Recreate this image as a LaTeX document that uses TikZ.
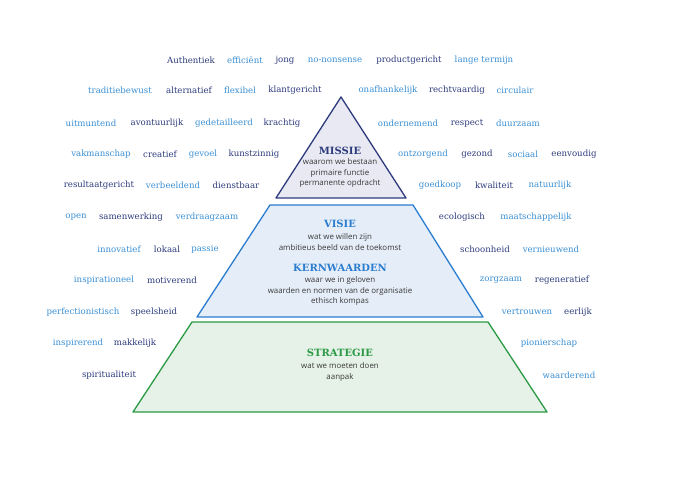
\documentclass[tikz,border=0pt]{standalone}
\usepackage{fontspec}
\newfontfamily\wordfont{DejaVu Serif}
\newfontfamily\titlefont{DejaVu Serif}
\newfontfamily\subfont{Open Sans}
\definecolor{navy}{HTML}{2D3B7C}
\definecolor{sky}{HTML}{3A8FD4}
\definecolor{bluel}{HTML}{2B7DCF}
\definecolor{greenl}{HTML}{2A9A45}
\definecolor{trifill}{HTML}{E8E9F3}
\definecolor{bluefill}{HTML}{E5EDF8}
\definecolor{greenfill}{HTML}{E6F1E7}
\definecolor{subgray}{HTML}{3A3A3A}
\tikzset{
  w/.style={inner sep=0pt, anchor=center, font=\wordfont\fontsize{8.6}{10}\selectfont},
  dk/.style={w, text=navy},
  lt/.style={w, text=sky},
  ttl/.style={inner sep=0pt, font=\titlefont\bfseries\fontsize{10}{12}\selectfont},
  sub/.style={inner sep=0pt, align=center, text=subgray, font=\subfont\fontsize{7.9}{10.6}\selectfont},
  layer/.style={line width=1.3pt, line join=round}
}
\begin{document}
\begin{tikzpicture}[x=1pt,y=-1pt]
\useasboundingbox (0,0) rectangle (680,481);
\fill[white] (0,0) rectangle (680,481);
% pyramid layers
\draw[layer, draw=greenl, fill=greenfill] (192,322) -- (488,322) -- (547,412) -- (133,412) -- cycle;
\draw[layer, draw=bluel, fill=bluefill] (270,205) -- (413,205) -- (483,317) -- (197,317) -- cycle;
\draw[layer, draw=navy, fill=trifill] (341,97) -- (406,198) -- (276,198) -- cycle;
% texts in pyramid
\node[ttl, text=navy] (missie) at (340,151) {MISSIE};
\node[sub] (missiet) at (340,173) {waarom we bestaan\\primaire functie\\permanente opdracht};
\node[ttl, text=bluel] (visie) at (340,224) {VISIE};
\node[sub] (visiet) at (340,242) {wat we willen zijn\\ambitieus beeld van de toekomst};
\node[ttl, text=bluel] (kern) at (340,268) {KERNWAARDEN};
\node[sub] (kernt) at (340,291) {waar we in geloven\\waarden en normen van de organisatie\\ethisch kompas};
\node[ttl, text=greenl] (strat) at (340,353) {STRATEGIE};
\node[sub] (stratt) at (340,372) {wat we moeten doen\\aanpak};
% words row 1
\node[dk] (a1) at (191,60) {Authentiek};
\node[lt] (a2) at (245,60) {efficiënt};
\node[dk] (a3) at (285,60) {jong};
\node[lt] (a4) at (335,60) {no-nonsense};
\node[dk] (a5) at (409,60) {productgericht};
\node[lt] (a6) at (484,60) {lange termijn};
% row 2
\node[lt] (b1) at (120,90) {traditiebewust};
\node[dk] (b2) at (189,90) {alternatief};
\node[lt] (b3) at (240,90) {flexibel};
\node[dk] (b4) at (295,90) {klantgericht};
\node[lt] (b5) at (388,90) {onafhankelijk};
\node[dk] (b6) at (457,90) {rechtvaardig};
\node[lt] (b7) at (515,90) {circulair};
% row 3
\node[lt] (c1) at (91,123) {uitmuntend};
\node[dk] (c2) at (157,123) {avontuurlijk};
\node[lt] (c3) at (224,123) {gedetailleerd};
\node[dk] (c4) at (282,123) {krachtig};
\node[lt] (c5) at (408,123) {ondernemend};
\node[dk] (c6) at (467,123) {respect};
\node[lt] (c7) at (518,123) {duurzaam};
% row 4
\node[lt] (d1) at (101,154) {vakmanschap};
\node[dk] (d2) at (160,154) {creatief};
\node[lt] (d3) at (203,154) {gevoel};
\node[dk] (d4) at (254,154) {kunstzinnig};
\node[lt] (d5) at (423,154) {ontzorgend};
\node[dk] (d6) at (477,154) {gezond};
\node[lt] (d7) at (523,154) {sociaal};
\node[dk] (d8) at (574,154) {eenvoudig};
% row 5
\node[dk] (e1) at (99,185) {resultaatgericht};
\node[lt] (e2) at (173,185) {verbeeldend};
\node[dk] (e3) at (236,185) {dienstbaar};
\node[lt] (e4) at (440,185) {goedkoop};
\node[dk] (e5) at (494,185) {kwaliteit};
\node[lt] (e6) at (550,185) {natuurlijk};
% row 6
\node[lt] (f1) at (76,217) {open};
\node[dk] (f2) at (131,217) {samenwerking};
\node[lt] (f3) at (207,217) {verdraagzaam};
\node[dk] (f4) at (462,217) {ecologisch};
\node[lt] (f5) at (536,217) {maatschappelijk};
% row 7
\node[lt] (g1) at (119,249) {innovatief};
\node[dk] (g2) at (167,249) {lokaal};
\node[lt] (g3) at (205,249) {passie};
\node[dk] (g4) at (485,249) {schoonheid};
\node[lt] (g5) at (551,249) {vernieuwend};
% row 8
\node[lt] (h1) at (104,280) {inspirationeel};
\node[dk] (h2) at (172,280) {motiverend};
\node[lt] (h3) at (501,280) {zorgzaam};
\node[dk] (h4) at (562,280) {regeneratief};
% row 9
\node[lt] (i1) at (83,312) {perfectionistisch};
\node[dk] (i2) at (154,312) {speelsheid};
\node[lt] (i3) at (527,312) {vertrouwen};
\node[dk] (i4) at (578,312) {eerlijk};
% row 10
\node[lt] (j1) at (78,343) {inspirerend};
\node[dk] (j2) at (135,343) {makkelijk};
\node[lt] (j3) at (549,343) {pionierschap};
% row 11
\node[dk] (k1) at (109,375) {spiritualiteit};
\node[lt] (k2) at (569,375) {waarderend};
\end{tikzpicture}
\end{document}
